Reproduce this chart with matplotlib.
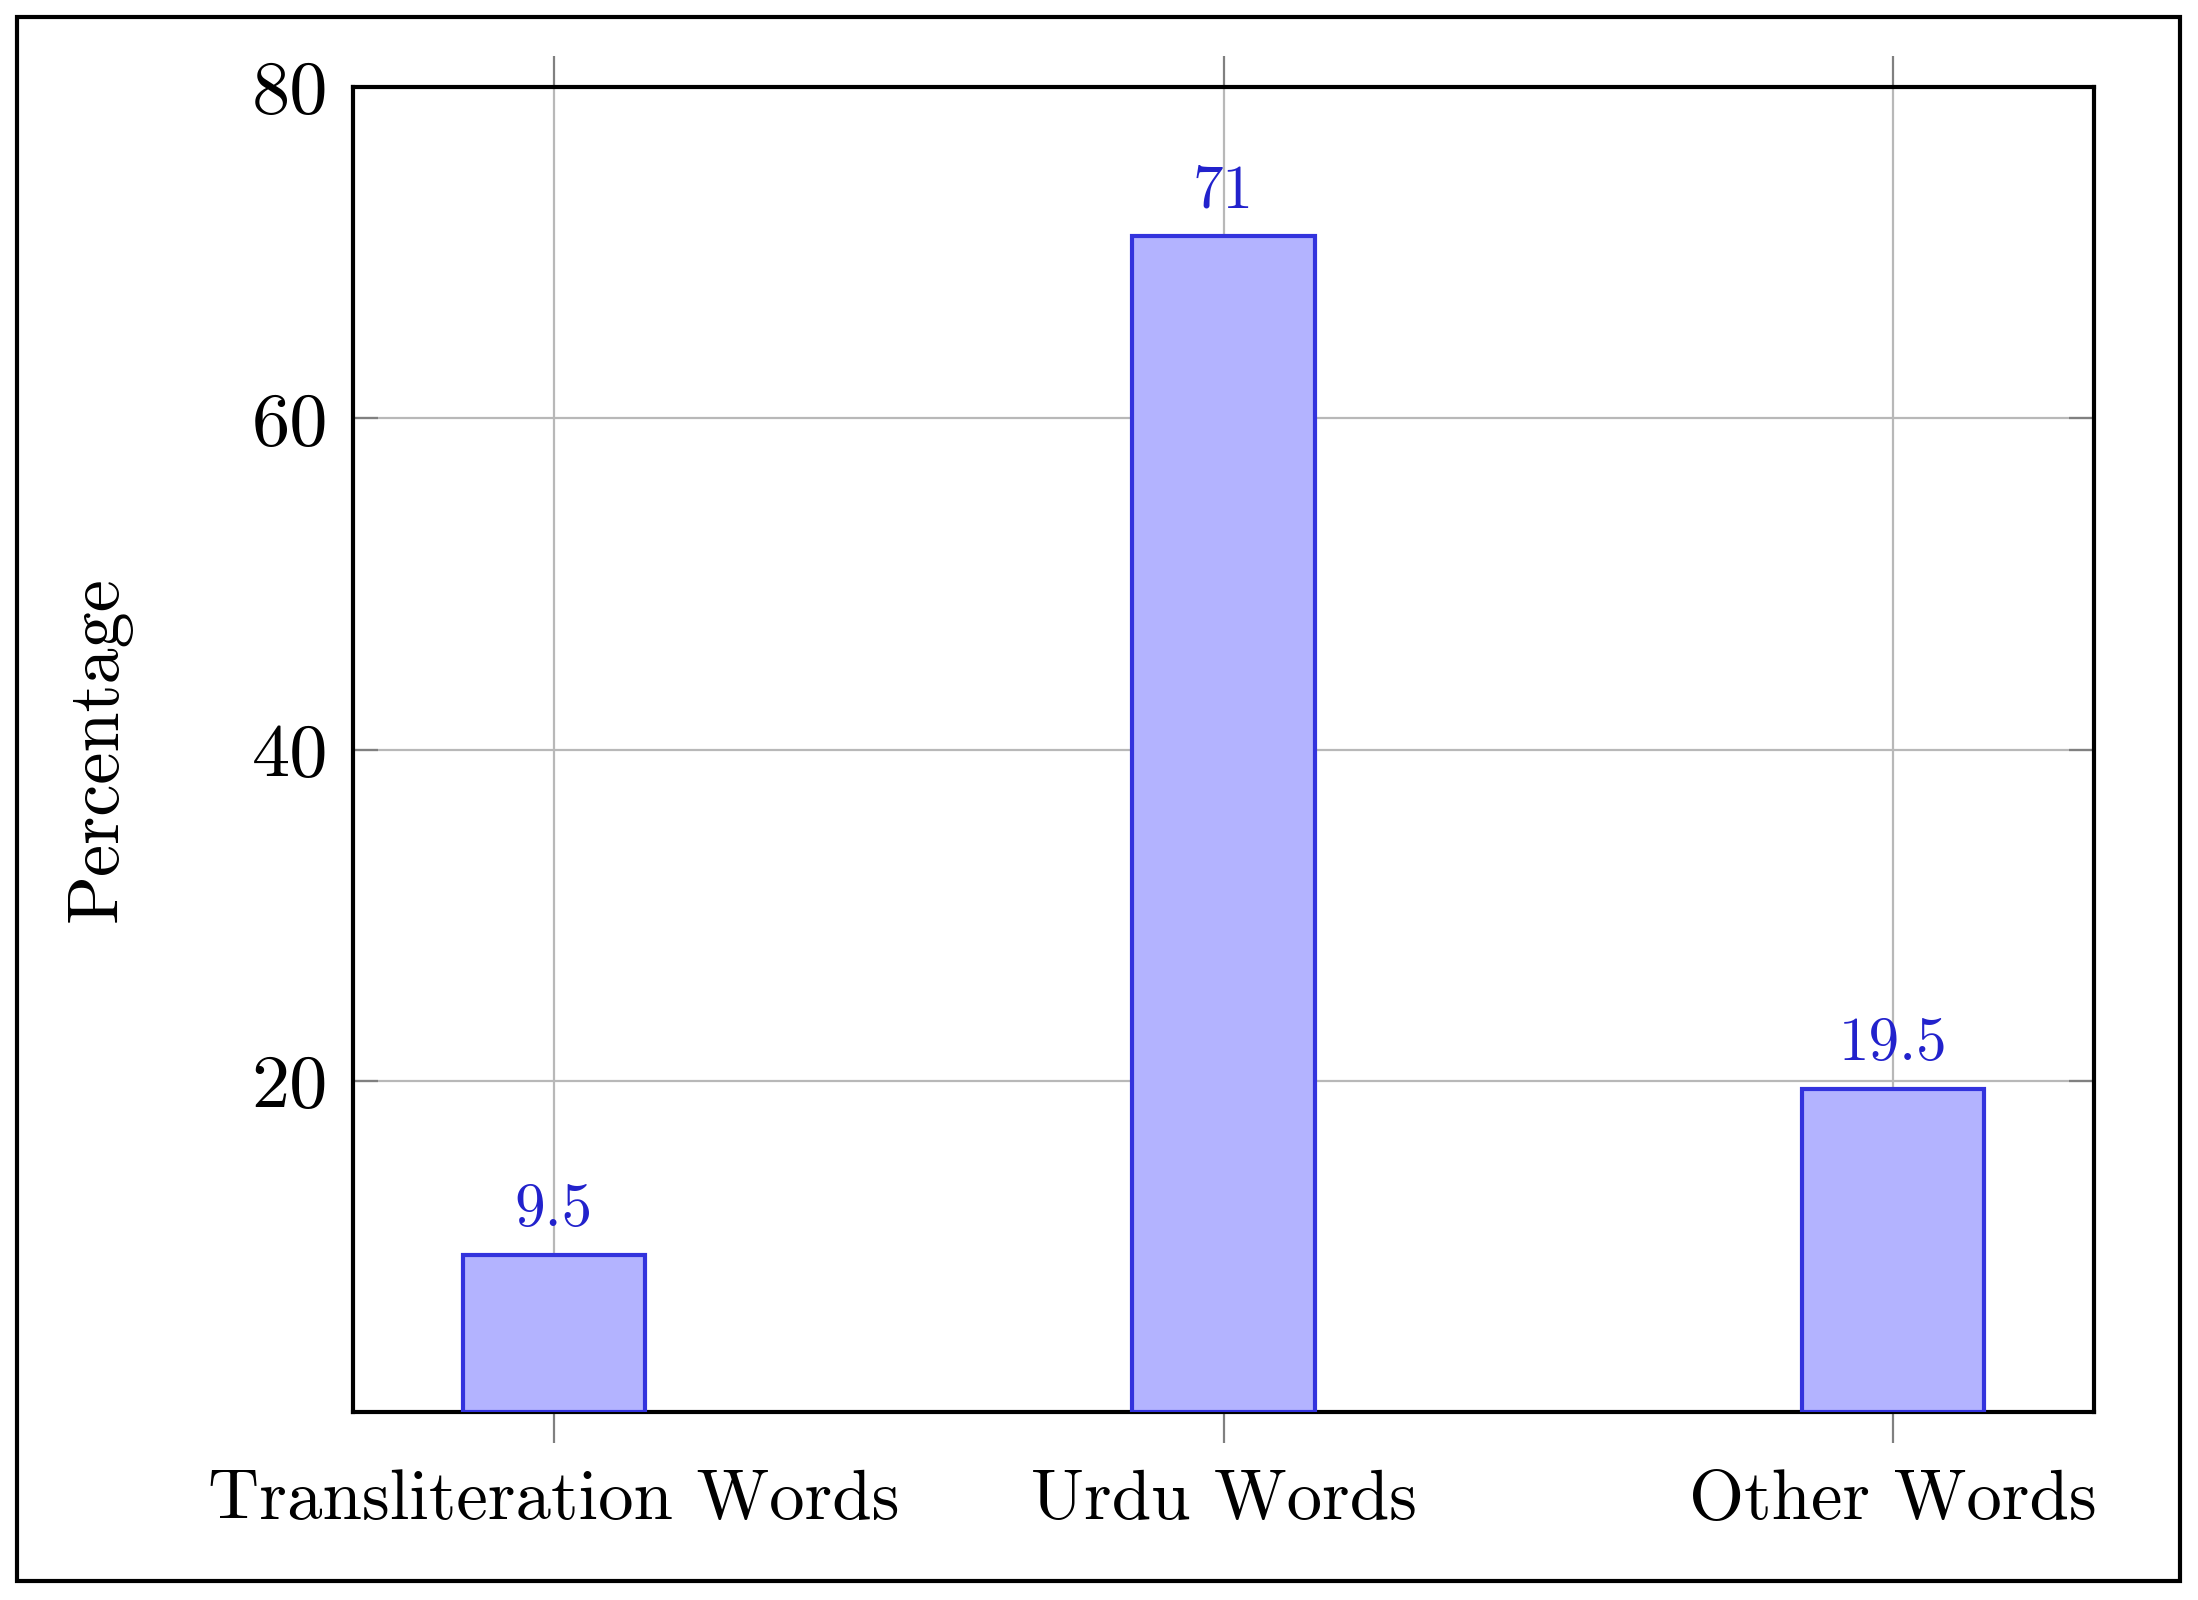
import matplotlib
matplotlib.use("Agg")
import matplotlib.pyplot as plt
from matplotlib.patches import Rectangle

# data
categories = ["Transliteration Words", "Urdu Words", "Other Words"]
percentages = [9.5, 71, 19.5]
value_labels = ["9.5", "71", "19.5"]
y_ticks = [20, 40, 60, 80]

plt.rcParams["font.family"] = ["cmr10", "DejaVu Serif"]
plt.rcParams["axes.formatter.use_mathtext"] = True

fig = plt.figure(figsize=(21.98, 16), dpi=100)
ax = fig.add_axes([0.1606, 0.1175, 0.7921, 0.8281])

x = list(range(len(categories)))
bars = ax.bar(x, percentages, width=0.272, color="#b3b3ff",
              edgecolor="#3333dd", linewidth=3, zorder=3)

for b, lab in zip(bars, value_labels):
    ax.annotate(lab, (b.get_x() + b.get_width() / 2, b.get_height()),
                xytext=(0, 12), textcoords="offset points",
                ha="center", va="bottom", fontsize=44, color="#2222cc")

ax.set_xlim(-0.3, 2.3)
ax.set_ylim(0, 80)
ax.set_xticks(x)
ax.set_xticklabels(categories, fontsize=51)
ax.set_yticks(y_ticks)
ax.set_yticklabels([str(t) for t in y_ticks], fontsize=55)
ax.set_ylabel("Percentage", fontsize=52, labelpad=86)

ax.grid(True, color="#b8b8b8", linewidth=1.6, zorder=0)
ax.set_axisbelow(True)
ax.tick_params(axis="x", direction="out", length=22, width=1.6,
               color="#808080", top=True, pad=19)
ax.tick_params(axis="y", direction="in", length=18, width=1.6,
               color="#808080", right=True, pad=18)
for s in ax.spines.values():
    s.set_linewidth(3)
    s.set_color("black")

# outer frame
fig.patches.append(Rectangle((0.0077, 0.0119), 0.9841, 0.9775,
                             transform=fig.transFigure, fill=False,
                             edgecolor="black", linewidth=3))

fig.savefig("out.png", dpi=100)
